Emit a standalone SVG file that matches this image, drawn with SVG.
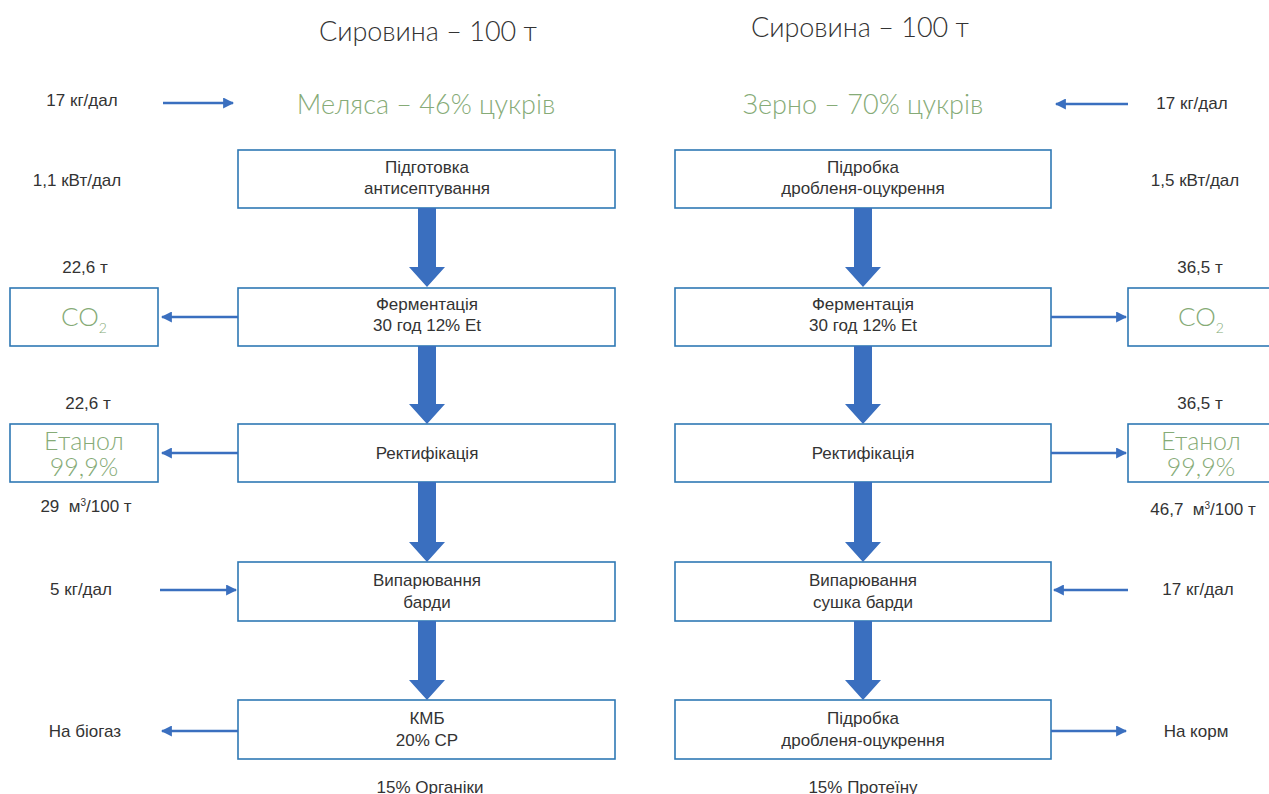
<svg xmlns="http://www.w3.org/2000/svg" width="1269" height="794" viewBox="0 0 1269 794">
<defs>
<style>
.box{fill:#fff;stroke:#2f78b4;stroke-width:1.6}
.t{font-family:"Liberation Sans",Arial,sans-serif;font-size:17px;fill:#333;text-anchor:middle}
.ttl{font-family:Lato,"Open Sans",sans-serif;font-weight:300;font-size:27px;fill:#333;text-anchor:middle}
.g{font-family:Lato,"Open Sans",sans-serif;font-weight:300;fill:#86ab77;text-anchor:middle}
.thin{stroke:#3a6fbf;stroke-width:2.5;fill:none;marker-end:url(#ah)}
.thick{fill:#3a6fbf}
</style>
<marker id="ah" viewBox="0 0 10 10" refX="9" refY="5" markerWidth="4.4" markerHeight="4.4" orient="auto" markerUnits="strokeWidth">
<path d="M0,0 L10,5 L0,10 z" fill="#3a6fbf"/>
</marker>
</defs>
<rect width="1269" height="794" fill="#fff"/>

<g id="titles">
<text class="ttl" x="428" y="41">Сировина – 100 т</text>
<text class="ttl" x="860" y="37">Сировина – 100 т</text>
<text class="g" x="426" y="114" font-size="27">Меляса – 46% цукрів</text>
<text class="g" x="863" y="114" font-size="27">Зерно – 70% цукрів</text>
</g>

<g id="labels">
<text class="t" x="82" y="106">17 кг/дал</text>
<text class="t" x="1192" y="109">17 кг/дал</text>
<text class="t" x="77" y="186">1,1 кВт/дал</text>
<text class="t" x="1195" y="186">1,5 кВт/дал</text>
<text class="t" x="85" y="273">22,6 т</text>
<text class="t" x="1200" y="273">36,5 т</text>
<text class="t" x="88" y="409">22,6 т</text>
<text class="t" x="1200" y="409">36,5 т</text>
<text class="t" x="86" y="512">29 &#160;м<tspan font-size="10" dy="-6">3</tspan><tspan dy="6">/100 т</tspan></text>
<text class="t" x="1203" y="515">46,7 &#160;м<tspan font-size="10" dy="-6">3</tspan><tspan dy="6">/100 т</tspan></text>
<text class="t" x="81" y="595">5 кг/дал</text>
<text class="t" x="1198" y="595">17 кг/дал</text>
<text class="t" x="85" y="737">На біогаз</text>
<text class="t" x="1196" y="737">На корм</text>
<text class="t" x="430" y="793">15% Органіки</text>
<text class="t" x="863" y="793">15% Протеїну</text>
</g>

<g id="L1"><rect class="box" x="238" y="150" width="377" height="58"/><text class="t" x="427" y="173">Підготовка</text><text class="t" x="427" y="194">антисептування</text></g>
<g id="L2"><rect class="box" x="238" y="288" width="377" height="58"/><text class="t" x="427" y="310">Ферментація</text><text class="t" x="427" y="331">30 год 12% Et</text></g>
<g id="L3"><rect class="box" x="238" y="424" width="377" height="58"/><text class="t" x="427" y="459">Ректифікація</text></g>
<g id="L4"><rect class="box" x="238" y="562" width="377" height="59"/><text class="t" x="427" y="586">Випарювання</text><text class="t" x="427" y="608">барди</text></g>
<g id="L5"><rect class="box" x="238" y="700" width="377" height="59"/><text class="t" x="427" y="724">КМБ</text><text class="t" x="427" y="746">20% СР</text></g>

<g id="R1"><rect class="box" x="675" y="150" width="376" height="58"/><text class="t" x="863" y="173">Підробка</text><text class="t" x="863" y="194">дробленя-оцукрення</text></g>
<g id="R2"><rect class="box" x="675" y="288" width="376" height="58"/><text class="t" x="863" y="310">Ферментація</text><text class="t" x="863" y="331">30 год 12% Et</text></g>
<g id="R3"><rect class="box" x="675" y="424" width="376" height="58"/><text class="t" x="863" y="459">Ректифікація</text></g>
<g id="R4"><rect class="box" x="675" y="562" width="376" height="59"/><text class="t" x="863" y="586">Випарювання</text><text class="t" x="863" y="608">сушка барди</text></g>
<g id="R5"><rect class="box" x="675" y="700" width="376" height="59"/><text class="t" x="863" y="724">Підробка</text><text class="t" x="863" y="746">дробленя-оцукрення</text></g>

<g id="CO2L"><rect class="box" x="10" y="288" width="148" height="58"/><text class="g" x="84" y="326" font-size="26">CO<tspan font-size="14" dy="7">2</tspan></text></g>
<g id="EtL"><rect class="box" x="10" y="424" width="148" height="58"/><text class="g" font-size="25"><tspan x="84" y="450">Етанол</tspan><tspan x="84" y="476">99,9%</tspan></text></g>
<g id="CO2R"><rect class="box" x="1128" y="288" width="150" height="58"/><text class="g" x="1201" y="326" font-size="26">CO<tspan font-size="14" dy="7">2</tspan></text></g>
<g id="EtR"><rect class="box" x="1128" y="424" width="150" height="58"/><text class="g" font-size="25"><tspan x="1201" y="450">Етанол</tspan><tspan x="1201" y="476">99,9%</tspan></text></g>

<g id="connectors">
<polygon class="thick" points="418,208 436,208 436,267 445,267 427,287 409,267 418,267"/>
<polygon class="thick" points="418,346 436,346 436,404 445,404 427,424 409,404 418,404"/>
<polygon class="thick" points="418,482 436,482 436,542 445,542 427,562 409,542 418,542"/>
<polygon class="thick" points="418,621 436,621 436,680 445,680 427,700 409,680 418,680"/>
<polygon class="thick" points="854,208 872,208 872,267 881,267 863,287 845,267 854,267"/>
<polygon class="thick" points="854,346 872,346 872,404 881,404 863,424 845,404 854,404"/>
<polygon class="thick" points="854,482 872,482 872,542 881,542 863,562 845,542 854,542"/>
<polygon class="thick" points="854,621 872,621 872,680 881,680 863,700 845,680 854,680"/>
<line class="thin" x1="163" y1="103" x2="233" y2="103"/>
<line class="thin" x1="1128" y1="104" x2="1056" y2="104"/>
<line class="thin" x1="238" y1="317" x2="162" y2="317"/>
<line class="thin" x1="238" y1="453" x2="162" y2="453"/>
<line class="thin" x1="1051" y1="317" x2="1126" y2="317"/>
<line class="thin" x1="1051" y1="453" x2="1126" y2="453"/>
<line class="thin" x1="160" y1="590" x2="236" y2="590"/>
<line class="thin" x1="1128" y1="590" x2="1054" y2="590"/>
<line class="thin" x1="238" y1="731" x2="162" y2="731"/>
<line class="thin" x1="1051" y1="731" x2="1126" y2="731"/>
</g>
</svg>
